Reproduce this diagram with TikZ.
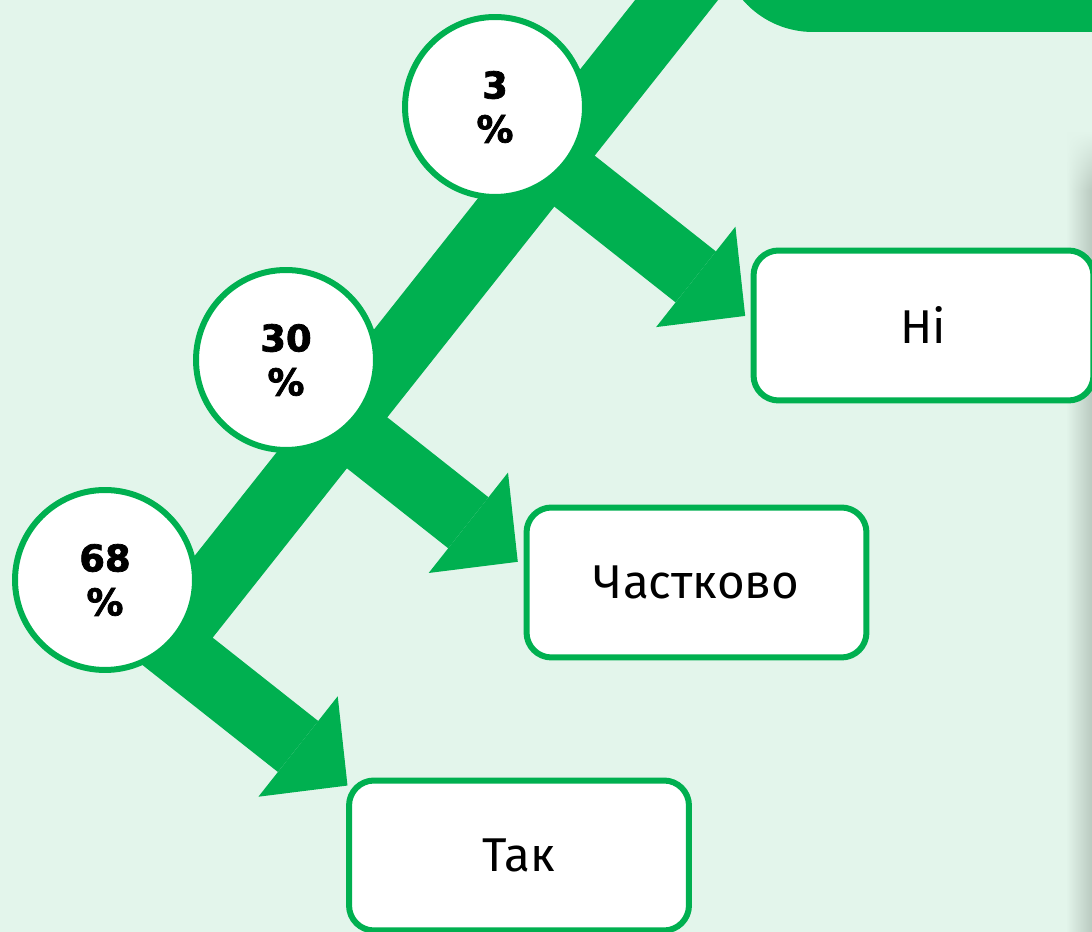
\documentclass[tikz,border=0pt]{standalone}
\usepackage{fontspec}
\setmainfont{Fira Sans}
\newfontfamily\pctfont{DejaVu Sans}[BoldFeatures={FakeBold=2}]
\usetikzlibrary{arrows.meta,fadings}
\definecolor{mgreen}{HTML}{00B050}
\definecolor{mint}{HTML}{E3F5EB}
\definecolor{shadowgray}{HTML}{BACAC0}
\tikzset{
	band/.style={draw=mgreen,line width=1.3cm,line join=miter,-{Triangle[length=1.26cm,width=2.56cm,line width=0pt]}},
	pct/.style={circle,draw=mgreen,fill=white,line width=0.12cm,minimum size=3.6cm,inner sep=0pt,align=center,font=\pctfont\bfseries\fontsize{21}{25}\selectfont},
	answer/.style={draw=mgreen,fill=white,line width=0.12cm,rounded corners=0.5cm,minimum width=6.8cm,minimum height=3cm,font=\fontsize{27}{32}\selectfont}
}
\begin{document}
\begin{tikzpicture}[x=0.02cm,y=0.02cm]
				\useasboundingbox (0,0) rectangle (1092,932);
				\clip (0,0) rectangle (1092,932);
				\fill[mint] (0,0) rectangle (1092,932);
				\shade[left color=mint,right color=shadowgray] (1066,0) rectangle (1092,741);
				\shade[left color=mint,right color=shadowgray,path fading=north] (1066,740) rectangle (1092,800);
				\fill[mgreen,rounded corners=1.86cm] (720,900) rectangle (1300,1200);
				\coordinate (b1) at (167,289);
				\coordinate (b2) at (342,509);
				\coordinate (b3) at (549,771);
				\coordinate (top) at (740,1012);
				\path (b1) ++(-38.3:230) coordinate (t1);
				\path (b2) ++(-38.3:224) coordinate (t2);
				\path (b3) ++(-38.3:250) coordinate (t3);
				\draw[band] (top)--(b1)--(t1);
				\draw[band] (b2)--(t2);
				\draw[band] (b3)--(t3);
				\node[pct] (p68) at (105,352) {68\\\%};
				\node[pct] (p30) at (286,572) {30\\\%};
				\node[pct] (p3) at (495,825) {3\\\%};
				\node[answer] (tak) at (519,76.5) {Так};
				\node[answer] (chast) at (696.5,349.5) {Частково};
				\node[answer] (ni) at (923.5,606.5) {Ні};
			\end{tikzpicture}
\end{document}
